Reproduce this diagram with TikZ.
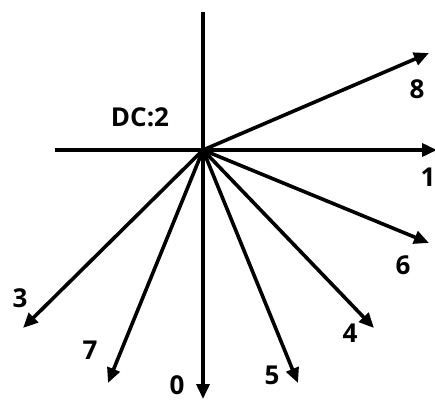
\documentclass[tikz,border=0pt]{standalone}
\usepackage{fontspec}
\setmainfont{Open Sans}
\usetikzlibrary{arrows.meta}
\tikzset{
  axis/.style={line width=3.6pt},
  dirarrow/.style={line width=3.6pt, -{Triangle[length=15pt,width=13pt]}},
  dirlabel/.style={font=\fontsize{26}{30}\selectfont\bfseries, inner sep=0pt}
}

\begin{document}
\begin{tikzpicture}[x=1pt, y=-1pt]
  \useasboundingbox (0,0) rectangle (435,400);
  \coordinate (o) at (203,150);
  \coordinate (top) at (203,12);
  \coordinate (left) at (55,150);
  \coordinate (e0) at (203,399);
  \coordinate (e1) at (437,150);
  \coordinate (e3) at (23,328);
  \coordinate (e4) at (374,328);
  \coordinate (e5) at (298,383);
  \coordinate (e6) at (429,243);
  \coordinate (e7) at (108,383);
  \coordinate (e8) at (429,53);
  \draw[axis] (top) -- (o);
  \draw[axis] (left) -- (o);
  \draw[dirarrow] (o) -- (e0);
  \draw[dirarrow] (o) -- (e1);
  \draw[dirarrow] (o) -- (e3);
  \draw[dirarrow] (o) -- (e4);
  \draw[dirarrow] (o) -- (e5);
  \draw[dirarrow] (o) -- (e6);
  \draw[dirarrow] (o) -- (e7);
  \draw[dirarrow] (o) -- (e8);
  \node[dirlabel] (dc) at (140,117) {DC:2};
  \node[dirlabel] (l0) at (177,385) {0};
  \node[dirlabel] (l1) at (428,177) {1};
  \node[dirlabel] (l3) at (20,298) {3};
  \node[dirlabel] (l4) at (350,333) {4};
  \node[dirlabel] (l5) at (272,375) {5};
  \node[dirlabel] (l6) at (403,265) {6};
  \node[dirlabel] (l7) at (90,350) {7};
  \node[dirlabel] (l8) at (417,89) {8};
\end{tikzpicture}
\end{document}
